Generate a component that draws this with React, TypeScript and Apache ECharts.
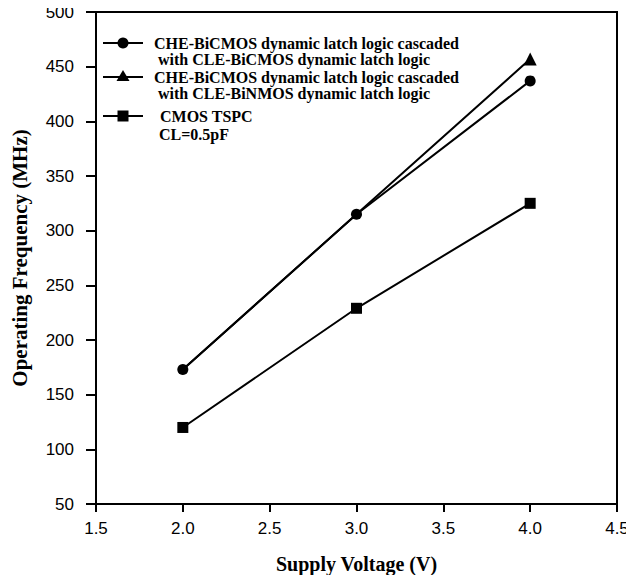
import React, { useEffect, useRef } from "react";
import * as echarts from "echarts";

const voltages = [2.0, 3.0, 4.0];
const bicmosFreq = [173, 315, 437];
const binmosFreq = [173, 315, 457];
const tspcFreq = [120, 229, 325];

const nameBicmos = "CHE-BiCMOS dynamic latch logic cascaded\n with CLE-BiCMOS dynamic latch logic";
const nameBinmos = "CHE-BiCMOS dynamic latch logic cascaded\n with CLE-BiNMOS dynamic latch logic";
const nameTspc = "CMOS TSPC";
const noteText = "CL=0.5pF";

const xTicks = { min: 1.5, max: 4.5, interval: 0.5 };
const yTicks = { min: 50, max: 500, interval: 50 };

const SERIF = "'Liberation Serif', 'Times New Roman', serif";
const SANS = "'Liberation Sans', Arial, sans-serif";

export default function App() {
  const ref = useRef<HTMLDivElement>(null);
  useEffect(() => {
    if (!ref.current) return;
    const chart = echarts.init(ref.current, null, { renderer: "svg" });
    const mk = (name: string, data: number[], symbol: any, size: number, z: number) => ({
      type: "line",
      name,
      data: voltages.map((v, i) => [v, data[i]]),
      symbol,
      symbolSize: size,
      z,
      lineStyle: { color: "#000", width: 2 },
      itemStyle: { color: "#000" },
      showAllSymbol: true,
    });
    const textStyle = {
      fontFamily: SERIF,
      fontWeight: "bold",
      fontSize: 16,
      fill: "#000",
      lineHeight: 16,
    };
    const legendText = (text: string, x: number, y: number) => ({
      type: "text",
      x,
      y,
      style: { ...textStyle, text },
    });
    const legendLine = (y: number) => ({
      type: "line",
      shape: { x1: 103, y1: y, x2: 143, y2: y },
      style: { stroke: "#000", lineWidth: 2 },
    });
    const lx = 123;
    // triangle markers coincide with the circle markers at 2.0 V and 3.0 V,
    // where the reference only shows the circle
    const triangleSymbol = (_v: any, p: any) => (p.dataIndex === voltages.length - 1 ? "triangle" : "none");
    chart.setOption({
      animation: false,
      backgroundColor: "#fff",
      grid: {
        left: 96,
        right: 17,
        top: 12,
        bottom: 79,
        show: true,
        borderColor: "#000",
        borderWidth: 2,
      },
      graphic: [
        legendLine(43),
        { type: "circle", shape: { cx: lx, cy: 43, r: 5.5 }, style: { fill: "#000" } },
        legendText(nameBicmos, 154, 35),
        legendLine(77),
        {
          type: "polygon",
          shape: { points: [[lx, 70], [lx - 6.5, 81], [lx + 6.5, 81]] },
          style: { fill: "#000" },
        },
        legendText(nameBinmos, 154, 69),
        legendLine(116),
        { type: "rect", shape: { x: lx - 5.5, y: 110.5, width: 11, height: 11 }, style: { fill: "#000" } },
        legendText(nameTspc, 160, 108),
        legendText(noteText, 159, 126),
      ],
      xAxis: {
        type: "value",
        min: xTicks.min,
        max: xTicks.max,
        interval: xTicks.interval,
        name: "Supply Voltage (V)",
        nameLocation: "middle",
        nameGap: 50,
        nameTextStyle: { fontFamily: SERIF, fontWeight: "bold", fontSize: 20, color: "#000" },
        axisLine: { lineStyle: { color: "#000", width: 2 } },
        axisTick: { show: true, length: 8, lineStyle: { color: "#000", width: 2 } },
        axisLabel: {
          margin: 16,
          fontFamily: SANS,
          fontSize: 17,
          color: "#000",
          formatter: (v: number) => v.toFixed(1),
        },
        splitLine: { show: false },
      },
      yAxis: {
        type: "value",
        min: yTicks.min,
        max: yTicks.max,
        interval: yTicks.interval,
        name: "Operating Frequency (MHz)",
        nameLocation: "middle",
        nameGap: 66,
        nameTextStyle: { fontFamily: SERIF, fontWeight: "bold", fontSize: 21, color: "#000" },
        axisLine: { lineStyle: { color: "#000", width: 2 } },
        axisTick: { show: true, length: 10, lineStyle: { color: "#000", width: 2 } },
        axisLabel: { margin: 22, fontFamily: SANS, fontSize: 17, color: "#000" },
        splitLine: { show: false },
      },
      series: [
        mk(nameBinmos, binmosFreq, triangleSymbol, 13, 2),
        mk(nameBicmos, bicmosFreq, "circle", 11, 3),
        mk(nameTspc, tspcFreq, "rect", 11, 3),
      ],
    });
    return () => chart.dispose();
  }, []);
  return <div ref={ref} style={{ width: 634, height: 583, margin: -8 }} />;
}
